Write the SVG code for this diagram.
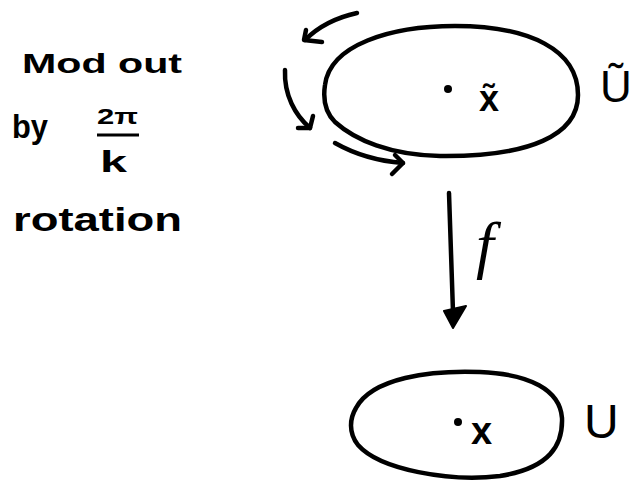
<svg xmlns="http://www.w3.org/2000/svg" width="637" height="480" viewBox="0 0 637 480">
<style>
.ln{fill:none;stroke:#000;stroke-width:4.5;stroke-linecap:round;stroke-linejoin:round}
.t{font-family:"Liberation Sans",Arial,sans-serif;fill:#000}
.b{font-weight:bold}
</style>
<rect width="637" height="480" fill="#fff"/>
<g id="label-text">
<text class="t b" x="22" y="73" font-size="28" textLength="160" lengthAdjust="spacingAndGlyphs">Mod out</text>
<text class="t b" x="12" y="138" font-size="34" textLength="36" lengthAdjust="spacingAndGlyphs">by</text>
<text class="t b" x="97" y="124" font-size="22" textLength="41" lengthAdjust="spacingAndGlyphs">2π</text>
<line x1="97" y1="135" x2="139" y2="135" stroke="#000" stroke-width="3"/>
<text class="t b" x="100" y="172" font-size="29" textLength="27" lengthAdjust="spacingAndGlyphs">k</text>
<text class="t b" x="13" y="231" font-size="34" textLength="169" lengthAdjust="spacingAndGlyphs">rotation</text>
</g>
<g id="node-top">
<path class="ln" d="M 325,85 C 330,45 390,26 455,26 C 530,26 578,50 578,95 C 578,135 530,157 440,156 C 390,155 355,140 335,122 C 325,112 323,98 325,85 Z"/>
<circle cx="448" cy="89" r="4"/>
<text class="t b" x="479" y="111" font-size="36">x̃</text>
<text class="t" x="600" y="102" font-size="44">Ũ</text>
</g>
<g id="node-bottom">
<path class="ln" d="M 356,408 C 372,378 430,370 480,372 C 530,374 560,390 562,418 C 563,445 550,468 500,476 C 450,482 380,470 358,445 C 348,432 350,418 356,408 Z"/>
<circle cx="458" cy="422" r="4"/>
<text class="t b" x="471" y="444" font-size="38">x</text>
<text class="t" x="584" y="438" font-size="48">U</text>
</g>
<g id="connectors">
<path class="ln" d="M 357,13 Q 325,20 305,40"/>
<polyline class="ln" points="306,30 304,40 322,42"/>
<path class="ln" d="M 285,70 C 284,95 295,115 310,128"/>
<polyline class="ln" points="313,116 310,128 298,128"/>
<path class="ln" d="M 335,143 Q 365,160 403,163"/>
<polyline class="ln" points="395,155 403,163 392,174"/>
<line class="ln" x1="449" y1="193" x2="453" y2="312"/>
<polygon points="444,311 466,306 453,328" fill="#000" stroke="#000" stroke-width="2" stroke-linejoin="round"/>
<text x="476" y="266" font-family="'Liberation Serif',serif" font-style="italic" font-size="64" fill="#000">f</text>
</g>
</svg>
